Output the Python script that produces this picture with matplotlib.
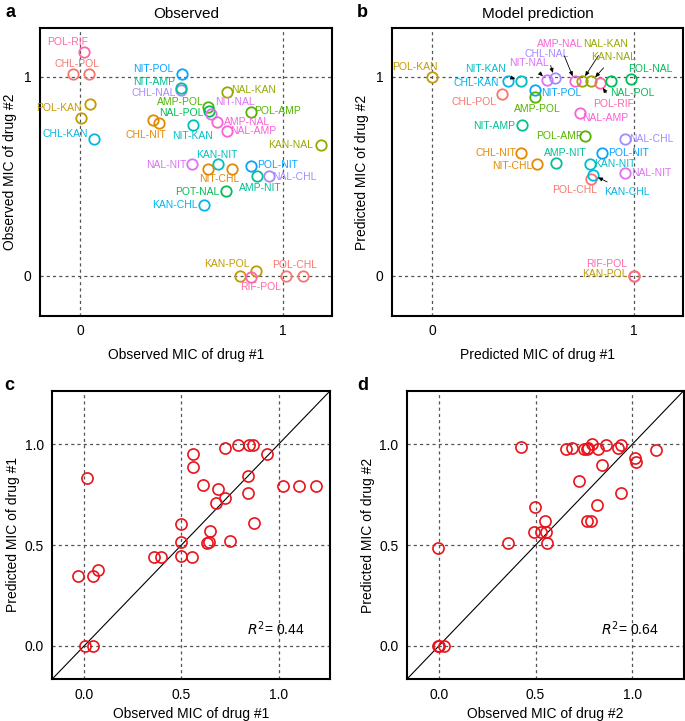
"""MIC of drug pairs: observed vs model prediction (panels a-d)."""
import matplotlib
matplotlib.use("Agg")
import matplotlib.pyplot as plt

plt.rcParams["font.family"] = ["Liberation Sans", "DejaVu Sans"]

# colour of each label (one hue per unordered drug pair)
label_colors = {
    "CHL-POL": "#F8766D", "POL-CHL": "#F8766D",
    "CHL-NIT": "#E38900", "NIT-CHL": "#E38900",
    "POL-KAN": "#C49A00", "KAN-POL": "#C49A00",
    "NAL-KAN": "#99A800", "KAN-NAL": "#99A800",
    "AMP-POL": "#53B400", "POL-AMP": "#53B400",
    "NAL-POL": "#00BC56", "POL-NAL": "#00BC56", "POT-NAL": "#00BC56",
    "NIT-AMP": "#00C094", "AMP-NIT": "#00C094",
    "NIT-KAN": "#00BFC4", "KAN-NIT": "#00BFC4",
    "CHL-KAN": "#00B6EB", "KAN-CHL": "#00B6EB",
    "NIT-POL": "#06A4FF", "POL-NIT": "#06A4FF",
    "CHL-NAL": "#A58AFF", "NAL-CHL": "#A58AFF",
    "NIT-NAL": "#DF70F8", "NAL-NIT": "#DF70F8",
    "AMP-NAL": "#FB61D7", "NAL-AMP": "#FB61D7",
    "POL-RIF": "#FF66A8", "RIF-POL": "#FF66A8",
}

# panel a: observed MIC (replicates share a label)
obs_pair = ["POL-RIF", "CHL-POL", "CHL-POL", "NIT-POL", "CHL-NAL", "NIT-AMP",
            "NAL-KAN", "AMP-POL", "NAL-POL", "NIT-NAL", "POL-AMP", "AMP-NAL",
            "NAL-AMP", "CHL-NIT", "CHL-NIT", "NIT-KAN", "POL-KAN", "POL-KAN",
            "CHL-KAN", "KAN-NAL", "NAL-NIT", "KAN-NIT", "NIT-CHL", "NIT-CHL",
            "POL-NIT", "AMP-NIT", "NAL-CHL", "POT-NAL", "KAN-CHL", "KAN-POL",
            "KAN-POL", "RIF-POL", "POL-CHL", "POL-CHL"]
obs_x1 = [0.017, -0.036, 0.045, 0.501, 0.497, 0.497, 0.725, 0.630, 0.638, 0.645,
          0.846, 0.678, 0.725, 0.360, 0.390, 0.556, 0.046, 0.003, 0.070, 1.192,
          0.551, 0.683, 0.633, 0.749, 0.846, 0.871, 0.935, 0.720, 0.614, 0.791,
          0.866, 0.844, 1.018, 1.103]
obs_x2 = [1.124, 1.017, 1.017, 1.015, 0.935, 0.945, 0.926, 0.851, 0.830, 0.815,
          0.824, 0.774, 0.729, 0.784, 0.770, 0.759, 0.864, 0.792, 0.687, 0.658,
          0.561, 0.561, 0.536, 0.536, 0.551, 0.504, 0.504, 0.427, 0.355, 0.000,
          0.027, -0.003, 0.000, 0.000]
obs_label_pos = {
    "POL-RIF": (-0.063, 1.174), "CHL-POL": (-0.018, 1.064), "NIT-POL": (0.363, 1.039),
    "NIT-AMP": (0.363, 0.972), "CHL-NAL": (0.363, 0.921), "NAL-KAN": (0.857, 0.935),
    "AMP-POL": (0.495, 0.874), "NIT-NAL": (0.766, 0.876), "NAL-POL": (0.501, 0.818),
    "POL-AMP": (0.973, 0.828), "AMP-NAL": (0.824, 0.774), "NAL-AMP": (0.857, 0.726),
    "CHL-NIT": (0.323, 0.710), "NIT-KAN": (0.556, 0.704), "POL-KAN": (-0.104, 0.846),
    "CHL-KAN": (-0.075, 0.714), "KAN-NAL": (1.040, 0.658), "NAL-NIT": (0.426, 0.558),
    "KAN-NIT": (0.675, 0.610), "NIT-CHL": (0.688, 0.486), "POL-NIT": (0.973, 0.558),
    "AMP-NIT": (0.891, 0.444), "NAL-CHL": (1.056, 0.496), "POT-NAL": (0.579, 0.424),
    "KAN-CHL": (0.468, 0.357), "KAN-POL": (0.725, 0.060), "RIF-POL": (0.891, -0.057),
    "POL-CHL": (1.060, 0.057),
}

# panel b: model prediction, one point per pair
pred_pair = ["POL-KAN", "CHL-KAN", "NIT-KAN", "CHL-POL", "NIT-POL", "AMP-POL",
             "NIT-NAL", "CHL-NAL", "AMP-NAL", "NAL-KAN", "KAN-NAL", "POL-RIF",
             "NAL-POL", "POL-NAL", "NAL-AMP", "NIT-AMP", "POL-AMP", "NAL-CHL",
             "CHL-NIT", "POL-NIT", "AMP-NIT", "NIT-CHL", "KAN-NIT", "NAL-NIT",
             "POL-CHL", "KAN-CHL", "KAN-POL", "RIF-POL"]
pred_x1 = [0.000, 0.379, 0.439, 0.346, 0.513, 0.513, 0.570, 0.608, 0.708, 0.744,
           0.791, 0.832, 0.890, 0.987, 0.733, 0.447, 0.757, 0.957, 0.439, 0.844,
           0.613, 0.520, 0.782, 0.957, 0.790, 0.798, 1.000, 1.000]
pred_x2 = [0.997, 0.980, 0.980, 0.913, 0.935, 0.898, 0.983, 0.993, 0.977, 0.980,
           0.977, 0.968, 0.980, 0.990, 0.821, 0.759, 0.704, 0.687, 0.620, 0.620,
           0.566, 0.561, 0.561, 0.519, 0.487, 0.508, 0.000, 0.000]
pred_label_pos = {
    "POL-KAN": (-0.085, 1.052), "NIT-KAN": (0.267, 1.039), "CHL-KAN": (0.218, 0.968),
    "CHL-POL": (0.209, 0.876), "NIT-POL": (0.641, 0.921), "AMP-POL": (0.522, 0.838),
    "NIT-NAL": (0.483, 1.069), "CHL-NAL": (0.570, 1.116), "AMP-NAL": (0.633, 1.164),
    "NAL-KAN": (0.862, 1.164), "KAN-NAL": (0.899, 1.100), "POL-RIF": (0.902, 0.863),
    "NAL-POL": (0.993, 0.921), "POL-NAL": (1.085, 1.039), "NAL-AMP": (0.857, 0.796),
    "NIT-AMP": (0.309, 0.755), "POL-AMP": (0.633, 0.704), "NAL-CHL": (1.090, 0.687),
    "CHL-NIT": (0.317, 0.620), "POL-NIT": (0.973, 0.620), "AMP-NIT": (0.663, 0.620),
    "NIT-CHL": (0.400, 0.553), "KAN-NIT": (0.907, 0.563), "NAL-NIT": (1.090, 0.519),
    "POL-CHL": (0.708, 0.432), "KAN-CHL": (0.965, 0.424), "RIF-POL": (0.865, 0.062),
    "KAN-POL": (0.857, 0.012),
}
pred_arrows = ["NIT-KAN", "NIT-NAL", "CHL-NAL", "AMP-NAL", "NAL-KAN", "KAN-NAL",
               "POL-RIF", "KAN-CHL"]

# panel c: drug #1, observed vs predicted
c_obs = [0.017, -0.034, 0.048, 0.072, 0.005, 0.048, 0.361, 0.396, 0.499, 0.499,
         0.499, 0.556, 0.558, 0.558, 0.613, 0.687, 0.680, 0.726, 0.633, 0.640,
         0.647, 0.750, 0.725, 0.792, 0.849, 0.869, 0.938, 0.843, 0.843, 0.874,
         1.021, 1.107, 1.193]
c_pred = [0.832, 0.345, 0.345, 0.375, 0.000, 0.000, 0.439, 0.439, 0.606, 0.513,
          0.446, 0.439, 0.952, 0.886, 0.797, 0.780, 0.710, 0.733, 0.512, 0.515,
          0.568, 0.520, 0.980, 0.998, 0.998, 0.998, 0.950, 0.840, 0.756, 0.611,
          0.792, 0.792, 0.792]
c_r2 = 0.44

# panel d: drug #2, observed vs predicted
d_obs = [-0.005, 0.003, 0.029, -0.002, 0.356, 0.424, 0.498, 0.493, 0.527, 0.553,
         0.548, 0.557, 0.656, 0.687, 0.751, 0.768, 0.773, 0.794, 0.820, 0.863,
         0.924, 0.940, 0.725, 0.842, 0.816, 0.768, 0.785, 0.940, 1.014, 1.017,
         1.124]
d_pred = [0.000, 0.000, 0.000, 0.487, 0.508, 0.988, 0.688, 0.563, 0.563, 0.563,
          0.619, 0.510, 0.974, 0.979, 0.977, 0.974, 0.982, 1.002, 0.977, 0.998,
          0.982, 0.998, 0.820, 0.898, 0.701, 0.620, 0.620, 0.759, 0.931, 0.914,
          0.969]
d_r2 = 0.64


def style(ax, ticks, labels, lim):
    ax.set_xlim(*lim)
    ax.set_ylim(*lim)
    ax.set_xticks(ticks)
    ax.set_yticks(ticks)
    ax.set_xticklabels(labels)
    ax.set_yticklabels(labels)
    for t in ticks:
        ax.axvline(t, color="#555555", lw=0.9, ls=(0, (2.5, 2.5)), zorder=0)
        ax.axhline(t, color="#555555", lw=0.9, ls=(0, (2.5, 2.5)), zorder=0)
    for s in ax.spines.values():
        s.set_linewidth(1.5)
    ax.tick_params(length=0, pad=6, labelsize=10)


fig = plt.figure(figsize=(6.85, 7.21), dpi=100)
ax_a = fig.add_axes([0.058, 0.562, 0.427, 0.399])
ax_b = fig.add_axes([0.572, 0.562, 0.425, 0.399])
ax_c = fig.add_axes([0.076, 0.058, 0.406, 0.400])
ax_d = fig.add_axes([0.594, 0.058, 0.404, 0.400])

lim_ab = (-0.2, 1.245)
for ax in (ax_a, ax_b):
    style(ax, [0, 1], ["0", "1"], lim_ab)

lab_fs = 7.5

# a
for name, x, y in zip(obs_pair, obs_x1, obs_x2):
    ax_a.plot(x, y, "o", ms=7.5, mfc="none", mec=label_colors[name], mew=1.3)
for name, (tx, ty) in obs_label_pos.items():
    ax_a.text(tx, ty, name, color=label_colors[name], fontsize=lab_fs,
              ha="center", va="center")
ax_a.set_title("Observed", fontsize=11, pad=7)
ax_a.set_xlabel("Observed MIC of drug #1", fontsize=10, labelpad=7)
ax_a.set_ylabel("Observed MIC of drug #2", fontsize=10, labelpad=5)

# b
for name, x, y in zip(pred_pair, pred_x1, pred_x2):
    ax_b.plot(x, y, "o", ms=7.5, mfc="none", mec=label_colors[name], mew=1.3)
for name, x, y in zip(pred_pair, pred_x1, pred_x2):
    tx, ty = pred_label_pos[name]
    if name in pred_arrows:
        ax_b.annotate(name, xy=(x, y), xytext=(tx, ty), color=label_colors[name],
                      fontsize=lab_fs, ha="center", va="center",
                      arrowprops=dict(arrowstyle="-|>,head_length=0.35,head_width=0.15",
                                      color="black", lw=0.6, shrinkA=3, shrinkB=4))
    else:
        ax_b.text(tx, ty, name, color=label_colors[name], fontsize=lab_fs,
                  ha="center", va="center")
ax_b.set_title("Model prediction", fontsize=11, pad=7)
ax_b.set_xlabel("Predicted MIC of drug #1", fontsize=10, labelpad=7)
ax_b.set_ylabel("Predicted MIC of drug #2", fontsize=10, labelpad=5)

# c, d
lim_cd = (-0.165, 1.265)
for ax, xs, ys, r2, n in ((ax_c, c_obs, c_pred, c_r2, 1), (ax_d, d_obs, d_pred, d_r2, 2)):
    style(ax, [0, 0.5, 1.0], ["0.0", "0.5", "1.0"], lim_cd)
    ax.plot(lim_cd, lim_cd, color="black", lw=0.8, zorder=1)
    ax.plot(xs, ys, "o", ms=8, mfc="none", mec="#e8141c", mew=1.2, ls="none", zorder=2)
    ax.text(1.135, 0.085, "$R^2$= %.2f" % r2, fontsize=10, ha="right", va="center")
    ax.set_xlabel("Observed MIC of drug #%d" % n, fontsize=10, labelpad=4)
    ax.set_ylabel("Predicted MIC of drug #%d" % n, fontsize=10, labelpad=3)

for letter, x, y in (("a", 0.008, 0.983), ("b", 0.521, 0.983),
                     ("c", 0.006, 0.466), ("d", 0.521, 0.466)):
    fig.text(x, y, letter, fontsize=13, fontweight="bold", va="center")

fig.savefig("out.png", dpi=100)
